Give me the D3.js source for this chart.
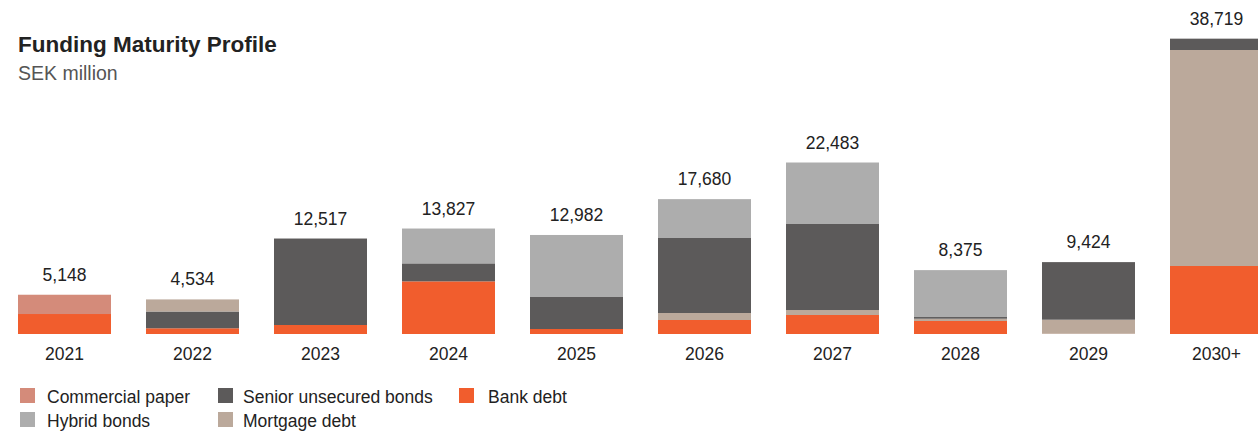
<!DOCTYPE html>
<html>
<head>
<meta charset="utf-8">
<script src="https://cdn.jsdelivr.net/npm/d3@7"></script>
<style>
  body { margin: 0; background: #fff; }
  svg text { font-family: "Liberation Sans", Arial, sans-serif; }
</style>
</head>
<body>
<div id="container"></div>
<script>
// funding maturity profile, stacked bars

var years = ["2021", "2022", "2023", "2024", "2025", "2026", "2027", "2028", "2029", "2030+"];
var totals = [5148, 4534, 12517, 13827, 12982, 17680, 22483, 8375, 9424, 38719];

// values per series, SEK million
var bankDebt        = [2620, 750, 1180, 6900, 655, 1835, 2490, 1705, 0, 8915];
var commercialPaper = [2528, 0, 0, 0, 0, 0, 0, 0, 40, 0];
var mortgageDebt    = [0, 1584, 0, 0, 0, 918, 656, 300, 1834, 28318];
var seniorBonds     = [0, 2200, 11337, 2360, 4195, 9833, 11276, 220, 7550, 1486];
var hybridBonds     = [0, 0, 0, 4567, 8132, 5094, 8061, 6150, 0, 0];

var series = [
  {key: "bank", name: "Bank debt", values: bankDebt, color: "#f15d2d"},
  {key: "cp", name: "Commercial paper", values: commercialPaper, color: "#d48b7a"},
  {key: "mortgage", name: "Mortgage debt", values: mortgageDebt, color: "#bba99b"},
  {key: "senior", name: "Senior unsecured bonds", values: seniorBonds, color: "#5c5a5a"},
  {key: "hybrid", name: "Hybrid bonds", values: hybridBonds, color: "#adadad"}
];
var byKey = {};
series.forEach(function(s) { byKey[s.key] = s; });

// stack order bottom -> top (2022 has mortgage on top in the original)
var defaultOrder = ["bank", "cp", "mortgage", "senior", "hybrid"];
var orderOverride = {"2022": ["bank", "cp", "senior", "mortgage", "hybrid"]};

var width = 1258, height = 431;

var svg = d3.select("#container").append("svg")
    .attr("width", width)
    .attr("height", height);

var x = d3.scaleBand()
    .domain(years)
    .range([18, 1263])
    .paddingInner(35 / 128)
    .paddingOuter(0);

var y = d3.scaleLinear()
    .domain([0, 40000])
    .range([334, 334 - 40000 / 131.1]);

// build segments
var segs = [];
years.forEach(function(yr, i) {
  var order = orderOverride[yr] || defaultOrder;
  var base = 0;
  order.forEach(function(k) {
    var v = byKey[k].values[i];
    if (v > 0) {
      segs.push({year: yr, y0: base, y1: base + v, color: byKey[k].color});
      base += v;
    }
  });
});

svg.append("g").selectAll("rect")
    .data(segs)
  .enter().append("rect")
    .attr("x", function(d) { return x(d.year); })
    .attr("width", x.bandwidth())
    .attr("y", function(d) { return y(d.y1); })
    .attr("height", function(d) { return y(d.y0) - y(d.y1); })
    .attr("fill", function(d) { return d.color; });

// totals above bars
svg.append("g").selectAll("text")
    .data(years)
  .enter().append("text")
    .attr("x", function(d) { return x(d) + x.bandwidth() / 2; })
    .attr("y", function(d, i) { return y(totals[i]) - 14; })
    .attr("text-anchor", "middle")
    .style("font-size", "17.5px")
    .style("fill", "#222")
    .text(function(d, i) { return d3.format(",")(totals[i]); });

// x axis
var xAxis = d3.axisBottom(x).tickSize(0).tickPadding(0);
var gx = svg.append("g")
    .attr("transform", "translate(0,334)")
    .call(xAxis);
gx.select(".domain").remove();
gx.selectAll("text")
    .attr("y", 26)
    .attr("dy", 0)
    .style("font-size", "17.5px")
    .style("fill", "#222")
    .style("font-family", "'Liberation Sans', Arial, sans-serif");

// title
svg.append("text")
    .attr("x", 18)
    .attr("y", 52)
    .style("font-size", "22.5px")
    .style("font-weight", "bold")
    .style("fill", "#222")
    .text("Funding Maturity Profile");

svg.append("text")
    .attr("x", 18)
    .attr("y", 80)
    .style("font-size", "19.5px")
    .style("fill", "#555")
    .text("SEK million");

// legend
var legendItems = [
  {key: "cp", x: 20, tx: 47, row: 0},
  {key: "senior", x: 218, tx: 243, row: 0},
  {key: "bank", x: 459, tx: 488, row: 0},
  {key: "hybrid", x: 20, tx: 47, row: 1},
  {key: "mortgage", x: 218, tx: 243, row: 1}
];
var legend = svg.append("g").selectAll("g")
    .data(legendItems)
  .enter().append("g")
    .attr("transform", function(d) { return "translate(0," + (388 + d.row * 24) + ")"; });

legend.append("rect")
    .attr("x", function(d) { return d.x; })
    .attr("width", 15)
    .attr("height", 15)
    .attr("fill", function(d) { return byKey[d.key].color; });

legend.append("text")
    .attr("x", function(d) { return d.tx; })
    .attr("y", 15)
    .style("font-size", "17.5px")
    .style("fill", "#222")
    .text(function(d) { return byKey[d.key].name; });
</script>
</body>
</html>
